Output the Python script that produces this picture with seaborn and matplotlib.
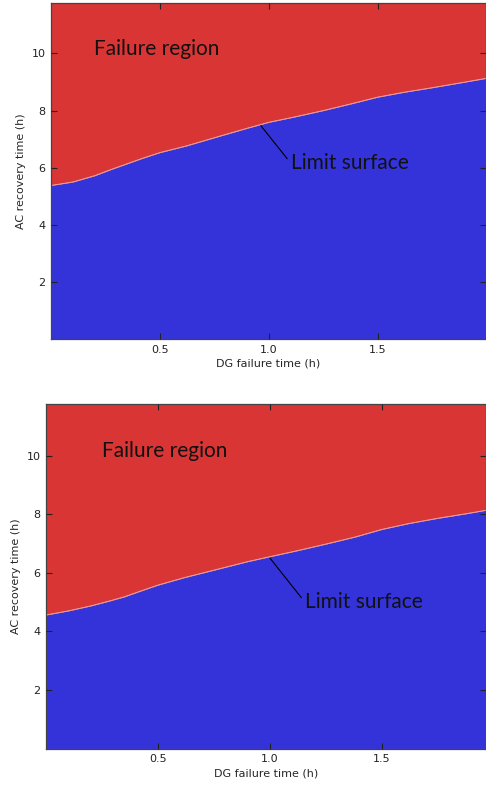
import numpy as np
import pandas as pd
import seaborn as sns
import matplotlib.pyplot as plt

# limit surface (DG failure time -> AC recovery time)
dg_time = [0.0, 0.1, 0.2, 0.28, 0.35, 0.42, 0.5, 0.62, 0.75, 0.9, 1.0, 1.12, 1.25, 1.38, 1.5, 1.62, 1.75, 1.88, 2.0]
limit_top = [5.38, 5.5, 5.72, 5.95, 6.14, 6.33, 6.53, 6.76, 7.05, 7.38, 7.59, 7.78, 8.0, 8.24, 8.47, 8.64, 8.8, 8.97, 9.13]
limit_bottom = [4.56, 4.7, 4.87, 5.03, 5.18, 5.37, 5.58, 5.84, 6.09, 6.38, 6.55, 6.75, 6.98, 7.22, 7.48, 7.68, 7.86, 8.02, 8.18]

y_ticks = [2, 4, 6, 8, 10]
x_ticks = [0.5, 1.0, 1.5]

RED = "#d93535"
BLUE = "#3333d9"

sns.set_style("ticks")
plt.rcParams['font.family'] = ['DejaVu Sans']

fig = plt.figure(figsize=(4.86, 7.85), dpi=100)

panels = [
    # axes rect, limit values, xmax, failure text pos, annotation (xy, text pos)
    ([0.105, 0.568, 0.895, 0.428], limit_top, 1.998, (0.196, 10.17), ((0.964, 7.47), (1.10, 6.17))),
    ([0.0947, 0.0464, 0.9053, 0.439], limit_bottom, 1.965, (0.252, 10.17), ((1.0, 6.5), (1.155, 5.01))),
]

YMAX = 11.76

for rect, limit, xmax, fail_pos, (ann_xy, ann_txt) in panels:
    ax = fig.add_axes(rect)
    df = pd.DataFrame({"dg": dg_time, "ac": limit})
    ax.fill_between(df["dg"], 0, df["ac"], color=BLUE, lw=0)
    ax.fill_between(df["dg"], df["ac"], YMAX, color=RED, lw=0)
    sns.lineplot(data=df, x="dg", y="ac", ax=ax, color="#e8b0b0", lw=0.6)

    ax.set_axisbelow(False)
    ax.set_xlim(0, xmax)
    ax.set_ylim(0, YMAX)
    ax.set_xticks(x_ticks)
    ax.set_yticks(y_ticks)
    ax.set_xticklabels(["0.5", "1.0", "1.5"])
    ax.set_xlabel("DG failure time (h)", fontsize=8, labelpad=3)
    ax.set_ylabel("AC recovery time (h)", fontsize=8, labelpad=4)
    ax.tick_params(direction="in", top=True, right=True, length=4, width=0.8,
                   labelsize=8, colors="#222222", pad=4)
    for s in ax.spines.values():
        s.set_color("#444444")
        s.set_linewidth(0.9)

    ax.text(fail_pos[0], fail_pos[1], "Failure region", fontsize=15,
            family=["Lato", "DejaVu Sans"], va="center", ha="left", color="#111111")
    ax.annotate("Limit surface", xy=ann_xy, xytext=ann_txt, fontsize=15,
                family=["Lato", "DejaVu Sans"], va="center", ha="left", color="#111111",
                arrowprops=dict(arrowstyle="-", color="black", lw=0.8,
                                shrinkA=0, shrinkB=0, relpos=(0, 0.5)))

fig.savefig("out.png", dpi=100)
